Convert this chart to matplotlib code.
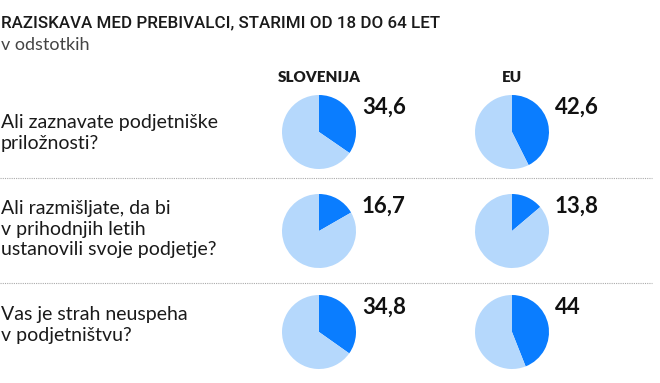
import matplotlib.pyplot as plt

# podatki
questions = ['Ali zaznavate podjetniške\npriložnosti?',
             'Ali razmišljate, da bi\nv prihodnjih letih\nustanovili svoje podjetje?',
             'Vas je strah neuspeha\nv podjetništvu?']
slovenija = [34.6, 16.7, 34.8]
eu = [42.6, 13.8, 44]
columns = ['SLOVENIJA', 'EU']

dark = '#0a7dff'
light = '#b5d8fc'
font = 'Lato'

W, H = 660, 383
fig = plt.figure(figsize=(W / 100, H / 100), dpi=100)
ax = fig.add_axes([0, 0, 1, 1])
ax.set_xlim(0, W)
ax.set_ylim(0, H)
ax.set_aspect('equal')
ax.axis('off')


def y(p):
    return H - p


def fmt(v):
    s = ('%.1f' % v).rstrip('0').rstrip('.')
    return s.replace('.', ',')


# naslov
ax.text(1, y(23), 'RAZISKAVA MED PREBIVALCI, STARIMI OD 18 DO 64 LET', fontsize=12.2,
        fontfamily='Roboto', fontweight='medium', color='#1a1a1a', va='center', ha='left')
ax.text(1, y(45), 'v odstotkih', fontsize=13, fontfamily=font, color='#444444',
        va='center', ha='left')

col_x = [319, 512]
for cx, name in zip(col_x, columns):
    ax.text(cx, y(77), name, fontsize=11, fontfamily=font, fontweight='heavy',
            color='#1a1a1a', ha='center', va='center')

row_y = [132, 231, 332]
q_y = [133, 229, 325]
for i, q in enumerate(questions):
    ax.text(1, y(q_y[i]), q, fontsize=14, fontfamily=font, color='#1a1a1a',
            ha='left', va='center', linespacing=1.25)
    for cx, vals in zip(col_x, [slovenija, eu]):
        v = vals[i]
        ax.pie([v, 100 - v], colors=[dark, light], startangle=90, counterclock=False,
               center=(cx, y(row_y[i])), radius=37, wedgeprops=dict(linewidth=0))
        ax.text(cx + 43, y(row_y[i] - 25), fmt(v), fontsize=16, fontfamily=font,
                fontweight='bold', color='#111111', ha='left', va='center')

ax.set_xlim(0, W)
ax.set_ylim(0, H)

for ly in [178, 283]:
    ax.plot([0, 652], [y(ly), y(ly)], color='#aaaaaa', linewidth=0.8, linestyle=(0, (1, 1)))

fig.savefig('out.png', dpi=100)
